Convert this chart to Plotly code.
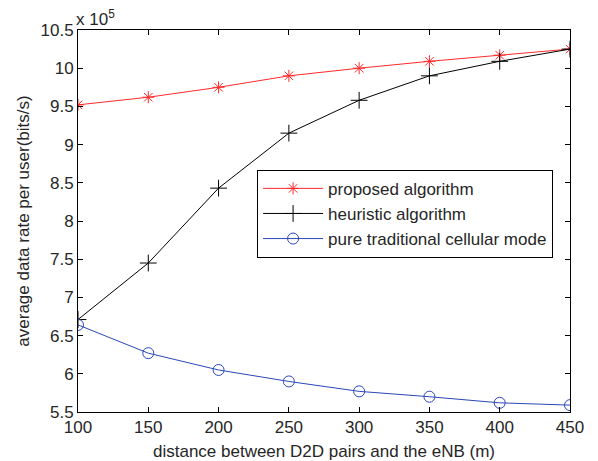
import plotly.graph_objects as go

distance = [100, 150, 200, 250, 300, 350, 400, 450]
proposed = [9.52, 9.62, 9.75, 9.90, 10.00, 10.09, 10.17, 10.25]
heuristic = [6.71, 7.45, 8.43, 9.15, 9.58, 9.90, 10.09, 10.25]
pure = [6.64, 6.27, 6.05, 5.90, 5.77, 5.70, 5.62, 5.59]

y_ticks = [5.5, 6, 6.5, 7, 7.5, 8, 8.5, 9, 9.5, 10, 10.5]
y_ticktext = ["5.5", "6", "6.5", "7", "7.5", "8", "8.5", "9", "9.5", "10", "10.5"]
x_ticks = [100, 150, 200, 250, 300, 350, 400, 450]

font = "Liberation Sans, Arial, sans-serif"
fs = 17
tc = "#262626"

fig = go.Figure()
fig.add_trace(go.Scatter(x=distance, y=proposed, mode="lines+markers", name="proposed algorithm",
                         line=dict(color="#ff2a2a", width=1),
                         marker=dict(symbol="asterisk-open", size=10, color="#ff2a2a",
                                     line=dict(color="#ff2a2a", width=1))))
fig.add_trace(go.Scatter(x=distance, y=heuristic, mode="lines+markers", name="heuristic algorithm",
                         line=dict(color="black", width=1),
                         marker=dict(symbol="cross-thin-open", size=12, color="black",
                                     line=dict(color="black", width=1))))
fig.add_trace(go.Scatter(x=distance, y=pure, mode="lines+markers", name="pure traditional cellular mode",
                         line=dict(color="#2a48b8", width=1),
                         marker=dict(symbol="circle-open", size=11, color="#2a48b8",
                                     line=dict(color="#2a48b8", width=1))))

axis_common = dict(showgrid=False, zeroline=False, showline=True, linecolor="black", linewidth=1,
                   mirror="allticks", ticks="inside", ticklen=5, tickcolor="black",
                   automargin=False,
                   tickfont=dict(family=font, size=fs, color=tc))

fig.update_xaxes(range=[100, 450], tickvals=x_ticks,
                 title=dict(text="distance between D2D pairs and the eNB (m)",
                            font=dict(family=font, size=fs, color=tc), standoff=8),
                 **axis_common)
fig.update_yaxes(range=[5.5, 10.5], tickvals=y_ticks, ticktext=y_ticktext,
                 title=dict(text="average data rate per user(bits/s)",
                            font=dict(family=font, size=fs, color=tc), standoff=6),
                 **axis_common)

fig.add_annotation(x=0, y=1, xref="paper", yref="paper", xanchor="left", yanchor="bottom",
                   text="x 10<sup>5</sup>", showarrow=False, xshift=-4, yshift=-1,
                   font=dict(family=font, size=fs, color=tc))

fig.update_layout(
    width=590, height=453,
    margin=dict(l=70, r=28, t=22, b=49),
    paper_bgcolor="white", plot_bgcolor="white",
    font=dict(family=font, size=fs, color=tc),
    legend=dict(x=0.364, y=0.634, xanchor="left", yanchor="top",
                bordercolor="black", borderwidth=1, bgcolor="white",
                font=dict(family=font, size=fs, color=tc),
                itemwidth=60, tracegroupgap=0),
)

fig.write_html("out.html")
